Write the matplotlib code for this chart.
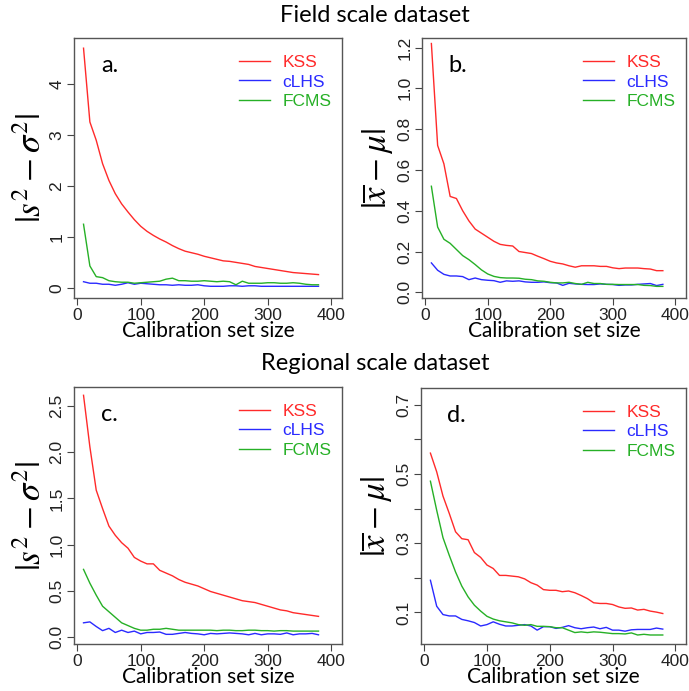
import numpy as np
import matplotlib
matplotlib.use("Agg")
import matplotlib.pyplot as plt

# calibration set sizes
sizes = np.arange(10, 381, 10)

# a. field scale, |s^2 - sigma^2|
field_var_kss = [4.71, 3.26, 2.90, 2.44, 2.11, 1.85, 1.65, 1.49, 1.34, 1.21,
                 1.11, 1.03, 0.96, 0.90, 0.83, 0.77, 0.72, 0.69, 0.66, 0.62,
                 0.59, 0.56, 0.53, 0.52, 0.50, 0.48, 0.46, 0.42, 0.40, 0.38,
                 0.36, 0.34, 0.32, 0.30, 0.29, 0.28, 0.27, 0.26]
field_var_clhs = [0.12, 0.09, 0.09, 0.07, 0.07, 0.05, 0.07, 0.10, 0.07, 0.09,
                  0.08, 0.07, 0.06, 0.06, 0.05, 0.06, 0.05, 0.05, 0.06, 0.04,
                  0.03, 0.03, 0.03, 0.04, 0.04, 0.03, 0.04, 0.04, 0.03, 0.03,
                  0.03, 0.03, 0.03, 0.03, 0.03, 0.03, 0.03, 0.03]
field_var_fcms = [1.25, 0.43, 0.22, 0.20, 0.14, 0.12, 0.11, 0.11, 0.09, 0.10,
                  0.11, 0.12, 0.13, 0.17, 0.19, 0.14, 0.14, 0.13, 0.13, 0.14,
                  0.13, 0.12, 0.13, 0.12, 0.06, 0.13, 0.09, 0.09, 0.09, 0.10,
                  0.10, 0.09, 0.09, 0.10, 0.09, 0.07, 0.06, 0.06]

# b. field scale, |xbar - mu|
field_mean_kss = [1.22, 0.72, 0.63, 0.47, 0.46, 0.40, 0.35, 0.31, 0.29, 0.27,
                  0.25, 0.235, 0.23, 0.227, 0.20, 0.195, 0.19, 0.177, 0.165, 0.152,
                  0.144, 0.139, 0.13, 0.123, 0.13, 0.13, 0.13, 0.127, 0.127, 0.12,
                  0.116, 0.119, 0.119, 0.119, 0.116, 0.114, 0.106, 0.106]
field_mean_clhs = [0.144, 0.108, 0.088, 0.080, 0.080, 0.077, 0.062, 0.070, 0.062, 0.059,
                   0.057, 0.049, 0.056, 0.054, 0.056, 0.051, 0.049, 0.049, 0.051, 0.047,
                   0.046, 0.034, 0.044, 0.041, 0.039, 0.038, 0.038, 0.041, 0.039, 0.038,
                   0.034, 0.036, 0.036, 0.039, 0.041, 0.043, 0.033, 0.039]
field_mean_fcms = [0.52, 0.32, 0.26, 0.24, 0.21, 0.18, 0.16, 0.136, 0.11, 0.09,
                   0.078, 0.072, 0.070, 0.070, 0.069, 0.064, 0.062, 0.056, 0.054, 0.049,
                   0.046, 0.046, 0.049, 0.043, 0.039, 0.049, 0.043, 0.043, 0.039, 0.039,
                   0.038, 0.038, 0.038, 0.038, 0.034, 0.033, 0.029, 0.029]

# c. regional scale, |s^2 - sigma^2|
reg_var_kss = [2.62, 2.06, 1.59, 1.39, 1.20, 1.10, 1.02, 0.96, 0.86, 0.82,
               0.79, 0.79, 0.72, 0.69, 0.66, 0.62, 0.59, 0.57, 0.55, 0.52,
               0.49, 0.47, 0.45, 0.43, 0.41, 0.39, 0.38, 0.37, 0.35, 0.33,
               0.31, 0.29, 0.28, 0.26, 0.25, 0.24, 0.23, 0.22]
reg_var_clhs = [0.15, 0.16, 0.11, 0.065, 0.09, 0.045, 0.07, 0.045, 0.06, 0.03,
                0.045, 0.045, 0.05, 0.025, 0.025, 0.035, 0.045, 0.035, 0.03, 0.02,
                0.035, 0.03, 0.035, 0.04, 0.035, 0.03, 0.02, 0.035, 0.02, 0.03,
                0.03, 0.025, 0.04, 0.02, 0.03, 0.03, 0.035, 0.02]
reg_var_fcms = [0.73, 0.58, 0.45, 0.33, 0.27, 0.21, 0.15, 0.12, 0.09, 0.07,
                0.07, 0.08, 0.08, 0.09, 0.08, 0.07, 0.07, 0.07, 0.07, 0.07,
                0.07, 0.065, 0.07, 0.07, 0.065, 0.065, 0.07, 0.07, 0.065, 0.065,
                0.06, 0.065, 0.065, 0.06, 0.06, 0.06, 0.06, 0.06]

# d. regional scale, |xbar - mu|
reg_mean_kss = [0.56, 0.506, 0.436, 0.386, 0.333, 0.313, 0.31, 0.273, 0.259, 0.237,
                0.227, 0.207, 0.207, 0.205, 0.203, 0.197, 0.186, 0.179, 0.166, 0.164,
                0.164, 0.16, 0.162, 0.157, 0.149, 0.14, 0.128, 0.126, 0.126, 0.123,
                0.116, 0.112, 0.113, 0.107, 0.109, 0.104, 0.101, 0.097]
reg_mean_clhs = [0.193, 0.118, 0.094, 0.09, 0.09, 0.08, 0.076, 0.071, 0.061, 0.065,
                 0.073, 0.066, 0.061, 0.061, 0.063, 0.065, 0.061, 0.049, 0.059, 0.059,
                 0.054, 0.057, 0.062, 0.056, 0.053, 0.056, 0.058, 0.053, 0.057, 0.049,
                 0.049, 0.046, 0.05, 0.051, 0.051, 0.051, 0.055, 0.052]
reg_mean_fcms = [0.479, 0.395, 0.316, 0.265, 0.217, 0.176, 0.145, 0.121, 0.104, 0.089,
                 0.081, 0.076, 0.073, 0.07, 0.065, 0.063, 0.065, 0.06, 0.06, 0.059,
                 0.056, 0.056, 0.049, 0.042, 0.044, 0.042, 0.044, 0.043, 0.041, 0.039,
                 0.039, 0.038, 0.041, 0.035, 0.037, 0.035, 0.035, 0.035]

methods = ["KSS", "cLHS", "FCMS"]
colors = ["#ff2a2a", "#2a2aff", "#26b026"]

W, H = 689, 691
fig = plt.figure(figsize=(W / 100, H / 100), dpi=100)
plt.rcParams['mathtext.fontset'] = 'stix'

label_font = "Lato"
tick_font = "Liberation Sans"

var_label = r'$|s^2-\sigma^2|$'
mean_label = r'$|\overline{x}-\mu|$'

panels = [
    # letter, box (left, top, right, bottom) px, data, ylim, yticks, ylabels, ylabel
    ("a.", (74, 38, 342, 298), [field_var_kss, field_var_clhs, field_var_fcms],
     (-0.20, 4.91), [0, 1, 2, 3, 4], ["0", "1", "2", "3", "4"], var_label),
    ("b.", (422, 38, 686, 298), [field_mean_kss, field_mean_clhs, field_mean_fcms],
     (-0.028, 1.247), [0, 0.2, 0.4, 0.6, 0.8, 1.0, 1.2],
     ["0.0", "0.2", "0.4", "0.6", "0.8", "1.0", "1.2"], mean_label),
    ("c.", (74, 387, 342, 644), [reg_var_kss, reg_var_clhs, reg_var_fcms],
     (-0.08, 2.71), [0, 0.5, 1.0, 1.5, 2.0, 2.5],
     ["0.0", "0.5", "1.0", "1.5", "2.0", "2.5"], var_label),
    ("d.", (421, 388, 686, 644), [reg_mean_kss, reg_mean_clhs, reg_mean_fcms],
     (0.009, 0.748), [0.1, 0.2, 0.3, 0.4, 0.5, 0.6, 0.7],
     ["0.1", "", "0.3", "", "0.5", "", "0.7"], mean_label),
]

for letter, (l, t, r, b), series, ylim, yticks, ylabels, ylab in panels:
    ax = fig.add_axes([l / W, 1 - b / H, (r - l) / W, (b - t) / H])
    for vals, name, c in zip(series, methods, colors):
        ax.plot(sizes, vals, color=c, lw=1.0, label=name)
    ax.set_xlim(-5, 417)
    ax.set_ylim(*ylim)
    ax.set_xticks([0, 100, 200, 300, 400])
    ax.set_yticks(yticks)
    ax.set_yticklabels(ylabels, rotation=90, va='center')
    for lab in ax.get_xticklabels() + ax.get_yticklabels():
        lab.set_fontfamily(tick_font)
        lab.set_fontsize(12.5)
        lab.set_color("#222222")
    ax.tick_params(length=5, width=0.8, color="#444444", pad=2)
    for s in ax.spines.values():
        s.set_color("#555555")
        s.set_linewidth(1.0)
    ax.set_xlabel("Calibration set size", fontfamily=label_font, fontsize=15, labelpad=-1)
    ax.set_ylabel(ylab, fontsize=25, labelpad=1)
    ax.text(0.1, 0.935, letter, transform=ax.transAxes, fontfamily=label_font,
            fontsize=17, va='top', ha='left')
    leg = ax.legend(loc='upper right', bbox_to_anchor=(1.0, 0.975), frameon=False,
                    borderaxespad=0.2, prop={'family': tick_font, 'size': 12.5},
                    handlelength=1.75, handletextpad=0.75, labelspacing=0.25,
                    labelcolor='linecolor')

fig.text(375 / W, 1 - 15 / H, "Field scale dataset", fontfamily=label_font,
         fontsize=17, ha='center', va='center')
fig.text(375 / W, 1 - 363 / H, "Regional scale dataset", fontfamily=label_font,
         fontsize=17, ha='center', va='center')

fig.savefig("out.png", dpi=100)
